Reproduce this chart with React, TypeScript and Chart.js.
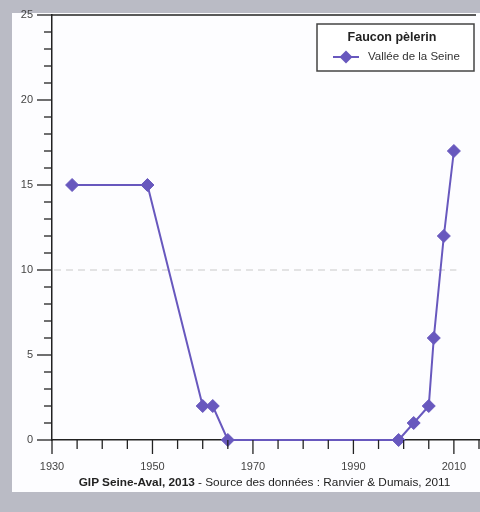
import React, { useEffect, useRef } from 'react';
import { Chart, registerables } from 'chart.js';

Chart.register(...registerables);

const years = [1934, 1949, 1960, 1962, 1965, 1999, 2002, 2005, 2006, 2008, 2010];
const counts = [15, 15, 2, 2, 0, 0, 1, 2, 6, 12, 17];
const seriesLabel = 'Vallée de la Seine';
const legendTitle = 'Faucon pèlerin';
const xLabelYears = [1930, 1950, 1970, 1990, 2010];
const yLabelValues = [0, 5, 10, 15, 20, 25];
const footerBold = 'GIP Seine-Aval, 2013';
const footerRest = ' - Source des données : Ranvier & Dumais, 2011';

const FONT = "'Liberation Sans', Arial, sans-serif";
const PURPLE = '#6858be';

const decorPlugin = {
  id: 'decor',
  beforeDatasetsDraw(chart: any) {
    const { ctx, chartArea, scales } = chart;
    const x = scales.x;
    const y = scales.y;
    ctx.save();
    ctx.strokeStyle = '#c9c9c9';
    ctx.lineWidth = 1;
    ctx.setLineDash([7, 5]);
    const py = y.getPixelForValue(10);
    ctx.beginPath();
    ctx.moveTo(chartArea.left + 2, py);
    ctx.lineTo(x.getPixelForValue(2010.5), py);
    ctx.stroke();
    ctx.restore();
  },
  afterDraw(chart: any) {
    const { ctx, chartArea, scales } = chart;
    const x = scales.x;
    const y = scales.y;
    ctx.save();
    ctx.strokeStyle = '#222';
    ctx.lineWidth = 1.3;
    // y ticks
    y.ticks.forEach((t: any) => {
      const py = y.getPixelForValue(t.value);
      const len = yLabelValues.includes(t.value) ? 15 : 8;
      ctx.beginPath();
      ctx.moveTo(chartArea.left - len, py);
      ctx.lineTo(chartArea.left, py);
      ctx.stroke();
    });
    // x ticks
    x.ticks.forEach((t: any) => {
      const px = x.getPixelForValue(t.value);
      const len = xLabelYears.includes(t.value) ? 14 : 9;
      ctx.beginPath();
      ctx.moveTo(px, chartArea.bottom);
      ctx.lineTo(px, chartArea.bottom + len);
      ctx.stroke();
    });
    // top frame line
    const pt = y.getPixelForValue(25);
    ctx.lineWidth = 1.5;
    ctx.beginPath();
    ctx.moveTo(chartArea.left, pt);
    ctx.lineTo(chartArea.right - 3, pt);
    ctx.stroke();

    // legend box
    const bx = chartArea.right - 162;
    const by = chartArea.top + 9;
    const bw = 157;
    const bh = 47;
    ctx.fillStyle = '#ffffff';
    ctx.fillRect(bx, by, bw, bh);
    ctx.strokeStyle = '#444';
    ctx.lineWidth = 1.5;
    ctx.strokeRect(bx, by, bw, bh);
    ctx.fillStyle = '#222';
    ctx.font = `bold 12.5px ${FONT}`;
    ctx.textAlign = 'center';
    ctx.textBaseline = 'middle';
    ctx.fillText(legendTitle, bx + 75, by + 14);
    // item
    const iy = by + 33;
    ctx.strokeStyle = PURPLE;
    ctx.lineWidth = 2;
    ctx.beginPath();
    ctx.moveTo(bx + 16, iy);
    ctx.lineTo(bx + 42, iy);
    ctx.stroke();
    ctx.fillStyle = PURPLE;
    ctx.beginPath();
    ctx.moveTo(bx + 29, iy - 6.5);
    ctx.lineTo(bx + 35.5, iy);
    ctx.lineTo(bx + 29, iy + 6.5);
    ctx.lineTo(bx + 22.5, iy);
    ctx.closePath();
    ctx.fill();
    ctx.fillStyle = '#333';
    ctx.font = `11.5px ${FONT}`;
    ctx.textAlign = 'left';
    ctx.fillText(seriesLabel, bx + 51, iy);
    ctx.restore();
  },
};

export default function App() {
  const canvasRef = useRef<HTMLCanvasElement | null>(null);

  useEffect(() => {
    document.body.style.margin = '0';
    const canvas = canvasRef.current;
    if (!canvas) return;
    const chart = new Chart(canvas, {
      type: 'line',
      data: {
        datasets: [
          {
            label: seriesLabel,
            data: years.map((yr, i) => ({ x: yr, y: counts[i] })),
            borderColor: PURPLE,
            backgroundColor: PURPLE,
            borderWidth: 2,
            pointStyle: 'rectRot',
            pointRadius: 6.5,
            pointBorderWidth: 1,
            pointBackgroundColor: PURPLE,
            pointBorderColor: PURPLE,
            tension: 0,
            fill: false,
            clip: false,
          },
        ],
      },
      options: {
        responsive: false,
        animation: false,
        devicePixelRatio: 1,
        layout: { autoPadding: false, padding: { left: 0, top: 15, right: 1, bottom: 32 } },
        plugins: {
          legend: { display: false },
          tooltip: { enabled: false },
        },
        scales: {
          x: {
            type: 'linear',
            min: 1930,
            max: 2015,
            grid: { display: false, drawTicks: false },
            border: { display: true, color: '#222', width: 1.5 },
            afterFit: (s: any) => {
              s.height = 40;
              s.paddingLeft = 0;
              s.paddingRight = 0;
            },
            ticks: {
              stepSize: 5,
              autoSkip: false,
              maxRotation: 0,
              padding: 20,
              color: '#444',
              font: { size: 11, family: FONT },
              callback: (v: any) => (xLabelYears.includes(Number(v)) ? String(v) : ''),
            },
          },
          y: {
            type: 'linear',
            min: 0,
            max: 25,
            grid: { display: false, drawTicks: false },
            border: { display: true, color: '#222', width: 1.5 },
            afterFit: (s: any) => {
              s.width = 52;
              s.paddingTop = 0;
              s.paddingBottom = 0;
            },
            ticks: {
              stepSize: 1,
              autoSkip: false,
              padding: 19,
              color: '#444',
              font: { size: 11, family: FONT },
              callback: (v: any) => (yLabelValues.includes(Number(v)) ? String(v) : ''),
            },
          },
        },
      },
      plugins: [decorPlugin],
    });
    return () => chart.destroy();
  }, []);

  return (
    <div style={{ position: 'relative', width: 480, height: 512, background: '#babbc5', overflow: 'hidden' }}>
      <div style={{ position: 'absolute', left: 12, top: 13, width: 468, height: 479, background: '#fdfdff' }} />
      <canvas ref={canvasRef} width={480} height={512} style={{ position: 'absolute', left: 0, top: 0, width: 480, height: 512 }} />
      <div
        style={{
          position: 'absolute',
          top: 475,
          left: 0,
          width: 480,
          paddingLeft: 49,
          boxSizing: 'border-box',
          textAlign: 'center',
          fontFamily: FONT,
          fontSize: 11.8,
          lineHeight: '14px',
          color: '#222',
          whiteSpace: 'nowrap',
        }}
      >
        <b>{footerBold}</b>
        {footerRest}
      </div>
    </div>
  );
}
